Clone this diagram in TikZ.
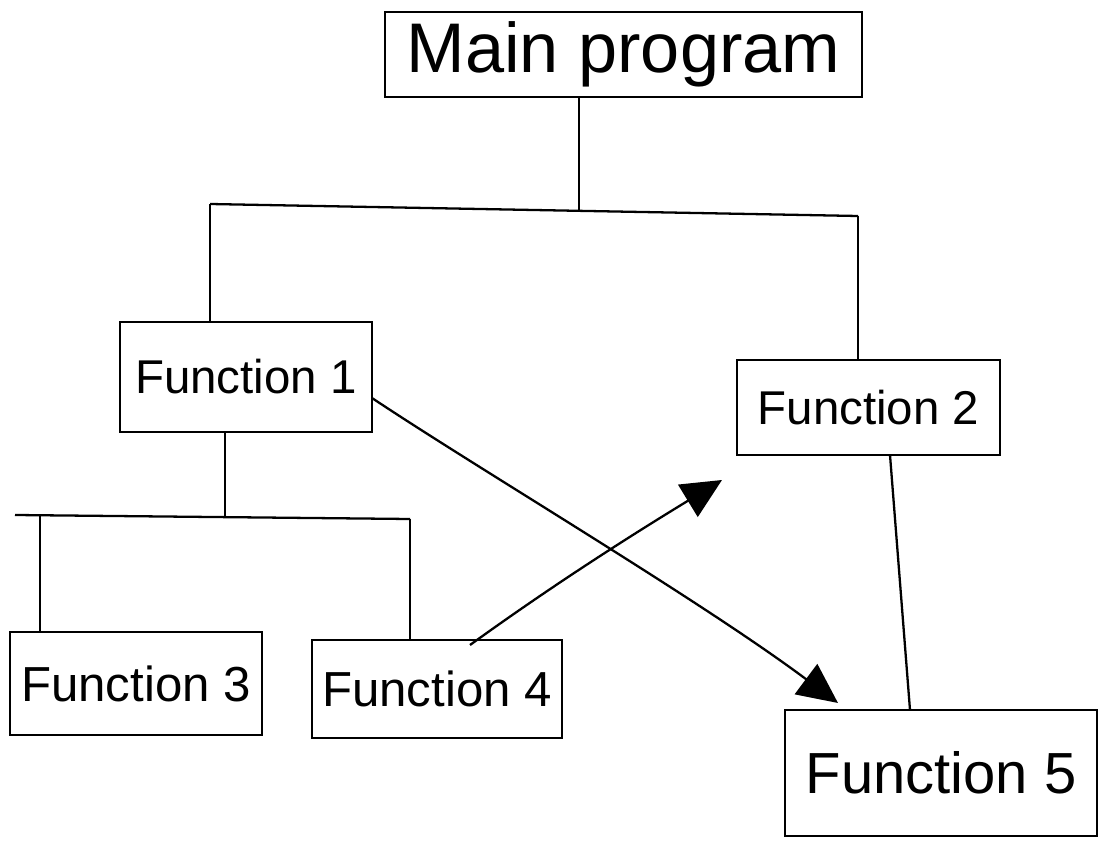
\documentclass[tikz,border=0pt]{standalone}
\usepackage{fontspec}
\setmainfont{Liberation Sans}
\usetikzlibrary{arrows.meta}
\tikzset{
  box/.style={draw, line width=1.4pt, inner sep=0pt},
  wire/.style={line width=1.3pt},
  link/.style={line width=1.3pt, -{Triangle[length=0.8cm,width=0.75cm]}},
  fs/.style={font=\fontsize{#1}{#1}\selectfont}
}
\begin{document}
\begin{tikzpicture}[x=0.02cm,y=-0.02cm]
\useasboundingbox (0,0) rectangle (1113,841);
\fill[white] (0,0) rectangle (1113,841);
% boxes
\node[box, fs=40pt, minimum width=477*0.02cm, minimum height=85*0.02cm] (main) at (623.5,54.5) {Main program};
\node[box, fs=27pt, minimum width=252*0.02cm, minimum height=110*0.02cm] (f1) at (246,377) {Function 1};
\node[box, fs=27pt, minimum width=263*0.02cm, minimum height=95*0.02cm] (f2) at (868.5,407.5) {Function 2};
\node[box, fs=28pt, minimum width=252*0.02cm, minimum height=103*0.02cm] (f3) at (136,683.5) {Function 3};
\node[box, fs=28pt, minimum width=250*0.02cm, minimum height=98*0.02cm] (f4) at (437,689) {Function 4};
\node[box, fs=33pt, minimum width=312*0.02cm, minimum height=126*0.02cm] (f5) at (941,773) {Function 5};
% tree lines
\coordinate (hl) at (210,204);
\coordinate (hr) at (858,216);
\coordinate (j1) at (579,211);
\draw[wire] (hl) -- (hr);
\draw[wire] (main.south -| j1) -- (j1);
\draw[wire] (hl) -- (hl |- f1.north);
\draw[wire] (hr) -- (hr |- f2.north);
\coordinate (gl) at (15,515);
\coordinate (gr) at (410,519);
\coordinate (g3) at (40,516);
\coordinate (j2) at (225,517);
\draw[wire] (gl) -- (gr);
\draw[wire] (f1.south -| j2) -- (j2);
\draw[wire] (g3) -- (g3 |- f3.north);
\draw[wire] (gr) -- (gr |- f4.north);
\coordinate (t2) at (890,455);
\draw[wire] (t2) -- (910,710);
% crossing arrows
\coordinate (a1s) at (372,398);
\coordinate (a1e) at (838,703);
\draw[link] (a1s) .. controls (480,470) and (700,600) .. (a1e);
\coordinate (a2s) at (470,645);
\coordinate (a2e) at (722,480);
\draw[link] (a2s) .. controls (560,580) and (640,530) .. (a2e);
\end{tikzpicture}
\end{document}
